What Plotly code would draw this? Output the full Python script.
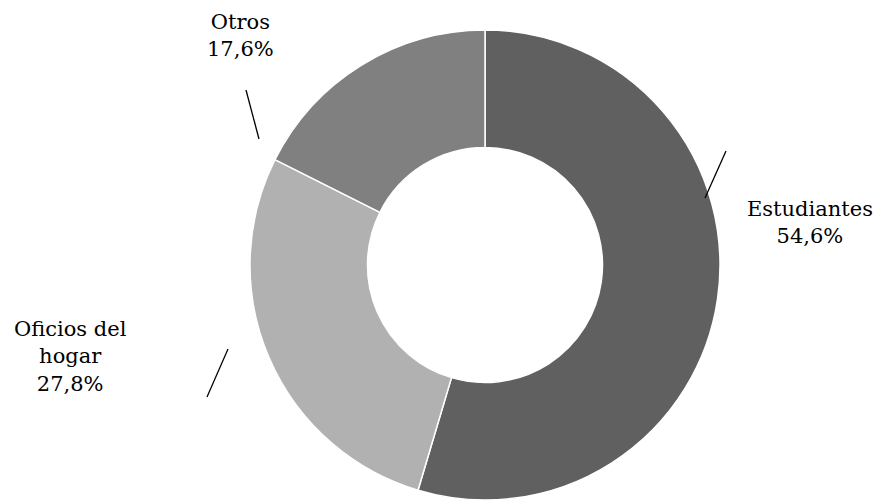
import plotly.graph_objects as go

categories = ["Estudiantes", "Oficios del hogar", "Otros"]
values = [54.6, 27.8, 17.6]
label_texts = ["Estudiantes<br>54,6%", "Oficios del<br>hogar<br>27,8%", "Otros<br>17,6%"]
colors = ["#606060", "#b1b1b1", "#808080"]

W, H = 884, 504
OFF = 8  # page body margin compensation

def px(x):
    return (x - OFF) / W

def py(y):
    return 1 - (y - OFF) / H

fig = go.Figure()
fig.add_trace(go.Pie(
    labels=categories,
    values=values,
    hole=0.5,
    sort=False,
    direction="clockwise",
    rotation=0,
    textinfo="none",
    hoverinfo="label+percent",
    marker=dict(colors=colors, line=dict(color="#ffffff", width=1.5)),
    domain=dict(x=[px(250), px(720)], y=[py(500), py(30)]),
    showlegend=False,
))

font = dict(family="Bookman Old Style, DejaVu Serif, serif", size=21, color="#000000")
label_pos = [(810, 222), (70, 356), (240, 35)]
for txt, (x, y) in zip(label_texts, label_pos):
    fig.add_annotation(x=px(x), y=py(y), xref="paper", yref="paper", text=txt,
                       showarrow=False, font=font, align="center",
                       xanchor="center", yanchor="middle")

leaders = [((705, 198), (726, 151)), ((207, 397), (228, 349)), ((246, 90), (259, 139))]
for (x0, y0), (x1, y1) in leaders:
    fig.add_shape(type="line", xref="paper", yref="paper",
                  x0=px(x0), y0=py(y0), x1=px(x1), y1=py(y1),
                  line=dict(color="#000000", width=1.3))

fig.update_layout(width=W, height=H, margin=dict(l=0, r=0, t=0, b=0),
                  paper_bgcolor="#ffffff", plot_bgcolor="#ffffff")
fig.write_html("out.html")
